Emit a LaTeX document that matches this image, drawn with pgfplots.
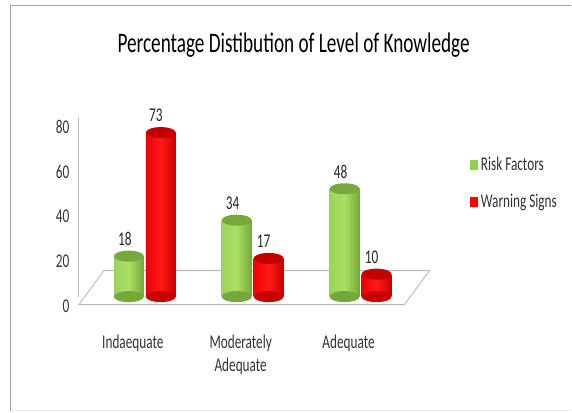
\documentclass[border=0pt]{standalone}
\usepackage{pgfplots}
\pgfplotsset{compat=1.18}
\usepackage{fontspec}
\setmainfont{Carlito}[FakeStretch=0.68]
\newcommand\lab{\fontsize{19.5}{23}\selectfont}
\newcommand\ttl{\fontsize{28.3}{34}\selectfont}
\definecolor{gL}{HTML}{9ED35A}
\definecolor{gM}{HTML}{A8E064}
\definecolor{gR}{HTML}{75A83A}
\definecolor{gTop}{HTML}{76A83C}
\definecolor{gLeg}{HTML}{92D050}
\definecolor{rL}{HTML}{EE0000}
\definecolor{rM}{HTML}{FF1A1A}
\definecolor{rR}{HTML}{C80000}
\definecolor{rTop}{HTML}{C40000}
\definecolor{rLeg}{HTML}{FF0000}
\pgfdeclareplotmark{cyl}{\pgfpathellipse{\pgfpointorigin}{\pgfqpoint{15pt}{0pt}}{\pgfqpoint{0pt}{5.5pt}}\pgfusepathqfill}
\pgfplotsset{
  gbar/.style={ybar, bar width=30pt, bar shift=-16pt, draw=none, forget plot,
    left color=gL, right color=gR, middle color=gM,
    nodes near coords, every node near coord/.append style={font=\lab, text=black!85, anchor=south, yshift=7pt, xshift=-20pt}},
  rbar/.style={ybar, bar width=30pt, bar shift=16pt, draw=none, forget plot,
    left color=rL, right color=rR, middle color=rM,
    nodes near coords, every node near coord/.append style={font=\lab, text=black!85, anchor=south, yshift=7pt, xshift=11pt}},
}
\begin{document}
\begin{tikzpicture}
\path (0pt,0pt) rectangle (572pt,412pt);
\draw[gray!70, line width=1.5pt] (10.5pt,0pt) -- (10.5pt,406.5pt) -- (572pt,406.5pt);
\draw[gray!20, line width=0.8pt] (11pt,1pt) -- (572pt,1pt);
\node[font=\ttl, text=black] at (294pt,367pt) {Percentage Distibution of Level of Knowledge};
\begin{axis}[
  at={(79pt,115pt)}, anchor=south west, scale only axis,
  width=351pt, height=180pt,
  xmin=-0.611, xmax=2.639, ymin=0, ymax=80,
  ytick={0,20,40,60,80},
  xtick={0,1,2},
  xticklabels={Indaequate, Moderately\\Adequate, Adequate},
  axis x line*=bottom, axis y line*=left,
  x axis line style={draw=none},
  y axis line style={draw=gray!50, line width=0.9pt},
  major tick length=0pt,
  clip=false, set layers,
  /pgf/number format/assume math mode=true,
  tick label style={font=\lab, text=black!80},
  xticklabel style={align=center, yshift=-35pt, xshift=-12pt},
  yticklabel style={xshift=-6pt, yshift=-10pt},
  legend style={at={(1.108,0.80)}, anchor=north west, draw=none, fill=none,
    font=\lab, text=black!80, row sep=18pt,
    /tikz/every odd column/.append style={column sep=1pt}},
  legend cell align=left,
]
\begin{pgfonlayer}{axis background}
\draw[gray!55, line width=0.9pt, fill=white]
  (axis cs:-0.611,-3.56) -- (axis cs:2.407,-3.56) -- (axis cs:2.639,11.56) -- (axis cs:-0.380,11.56) -- cycle;
\end{pgfonlayer}
% bottom ellipses (rounded cylinder bases)
\addplot[only marks, mark=cyl, color=gR, mark options={xshift=-16pt}, forget plot] coordinates {(0,0) (1,0) (2,0)};
\addplot[only marks, mark=cyl, color=rR, mark options={xshift=16pt}, forget plot] coordinates {(0,0) (1,0) (2,0)};
% bars: Risk Factors
\addplot[gbar] coordinates {(0,18)};
\addplot[gbar] coordinates {(1,34)};
\addplot[gbar] coordinates {(2,48)};
% bars: Warning Signs
\addplot[rbar] coordinates {(0,73)};
\addplot[rbar] coordinates {(1,17)};
\addplot[rbar] coordinates {(2,10)};
% top ellipses
\addplot[only marks, mark=cyl, color=gTop, mark options={xshift=-16pt}, forget plot] coordinates {(0,18) (1,34) (2,48)};
\addplot[only marks, mark=cyl, color=rTop, mark options={xshift=16pt}, forget plot] coordinates {(0,73) (1,17) (2,10)};
\addlegendimage{legend image code/.code={\fill[gLeg] (0pt,-4.5pt) rectangle (7pt,4.5pt);}}
\addlegendentry{Risk Factors}
\addlegendimage{legend image code/.code={\fill[rLeg] (0pt,-4.5pt) rectangle (7pt,4.5pt);}}
\addlegendentry{Warning Signs}
\end{axis}
\end{tikzpicture}
\end{document}
